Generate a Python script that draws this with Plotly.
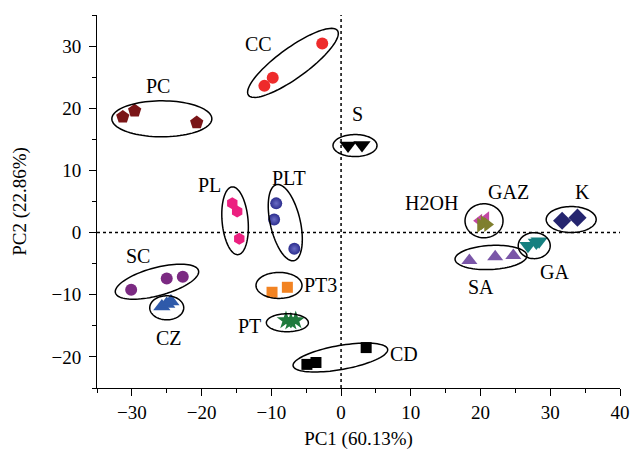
import numpy as np
import plotly.graph_objects as go

# PCA scores (PC1, PC2) per sample group
cc_x = [-11.0, -9.8, -2.7];   cc_y = [23.6, 24.9, 30.4]
pc_x = [-31.3, -29.6, -20.7]; pc_y = [18.6, 19.6, 17.7]
s_x = [1.0, 3.0];             s_y = [14.0, 14.1]
pl_x = [-15.6, -14.9, -14.6]; pl_y = [4.7, 3.4, -1.0]
plt_x = [-9.3, -9.6, -6.7];   plt_y = [4.7, 2.1, -2.6]
sc_x = [-30.1, -25.0, -22.7]; sc_y = [-9.2, -7.4, -7.1]
cz_x = [-25.7, -25.0, -24.4]; cz_y = [-11.9, -11.5, -11.1]
pt3_x = [-9.9, -7.7];         pt3_y = [-9.6, -8.8]
pt_x = [-7.9, -7.2, -6.5];    pt_y = [-14.1, -14.3, -14.1]
cd_x = [-4.9, -3.6, 3.6];     cd_y = [-21.2, -20.9, -18.5]
h2oh_x = [19.8, 20.8];        h2oh_y = [1.9, 2.3]
gaz_x = [20.0, 20.5, 21.0];   gaz_y = [1.2, 1.6, 1.3]
ga_x = [26.8, 28.0, 28.4];    ga_y = [-2.1, -1.6, -1.4]
sa_x = [18.4, 22.1, 24.7];    sa_y = [-4.5, -3.9, -3.7]
k_x = [31.7, 33.9];           k_y = [1.9, 2.4]

x_ticks = [-30, -20, -10, 0, 10, 20, 30, 40]
y_ticks = [-20, -10, 0, 10, 20, 30]
x_title = "PC1 (60.13%)"
y_title = "PC2 (22.86%)"

W, H = 632, 457
M = dict(l=97, r=12, t=15, b=69)
XR = [-35.0, 40.0]
YR = [-25.0, 35.0]
ppx = (W - M["l"] - M["r"]) / (XR[1] - XR[0])
ppy = (H - M["t"] - M["b"]) / (YR[1] - YR[0])

SERIF = "Liberation Serif"

groups = [
    # name, xs, ys, symbol, color, size
    ("PC", pc_x, pc_y, "pentagon", "#7a1517", 14),
    ("CC", cc_x, cc_y, "circle", "#ee2b2b", 12),
    ("S", s_x, s_y, "triangle-down", "#000000", 15),
    ("PL", pl_x, pl_y, "hexagon", "#ec2080", 12),
    ("PLT", plt_x, plt_y, "circle", "#2b2d8e", 12),
    ("SC", sc_x, sc_y, "circle", "#7b2a82", 12),
    ("CZ", cz_x, cz_y, "triangle-up", "#2f5aaa", 15),
    ("PT3", pt3_x, pt3_y, "square", "#f28322", 11),
    ("PT", pt_x, pt_y, "star", "#1f7a3c", 14),
    ("CD", cd_x, cd_y, "square", "#000000", 11),
    ("H2OH", h2oh_x, h2oh_y, "triangle-left", "#c447a6", 12),
    ("GAZ", gaz_x, gaz_y, "triangle-right", "#7f7f2e", 13),
    ("GA", ga_x, ga_y, "triangle-down", "#168080", 15),
    ("SA", sa_x, sa_y, "triangle-up", "#7a56a8", 14),
    ("K", k_x, k_y, "diamond", "#25256f", 14),
]

fig = go.Figure()
for name, xs, ys, sym, col, sz in groups:
    marker = dict(symbol=sym, color=col, size=sz, line=dict(width=0))
    if name == "PLT":
        marker["gradient"] = dict(type="radial", color="#6a6cc4")
    fig.add_trace(go.Scatter(x=xs, y=ys, mode="markers", name=name,
                             marker=marker, showlegend=False))

# Group outlines: center (data units), semi-axes (px), rotation (deg)
outlines = [
    (-6.9, 27.3, 55, 15, 36),
    (-25.7, 18.3, 50, 18, 0),
    (2.0, 14.0, 22, 11, 0),
    (-15.2, 1.9, 34, 13, 95),
    (-8.0, 1.6, 39, 15, 103),
    (-26.4, -7.9, 43, 14, 15),
    (-25.0, -12.1, 17, 12, 0),
    (-8.9, -8.5, 23, 13, 0),
    (-7.7, -14.5, 21, 9, 0),
    (-0.1, -20.1, 48, 12, 10),
    (20.5, 1.9, 19, 17, 0),
    (27.7, -2.1, 16, 13, 0),
    (21.5, -4.0, 36, 12, 3),
    (33.0, 2.1, 25, 13, 0),
]
t = np.linspace(0, 2 * np.pi, 90)
for cx, cy, a, b, ang in outlines:
    th = np.radians(ang)
    dx = a * np.cos(t) * np.cos(th) - b * np.sin(t) * np.sin(th)
    dy = a * np.cos(t) * np.sin(th) + b * np.sin(t) * np.cos(th)
    px = cx + dx / ppx
    py = cy + dy / ppy
    path = "M " + " L ".join(f"{u:.3f},{v:.3f}" for u, v in zip(px, py)) + " Z"
    fig.add_shape(type="path", path=path, xref="x", yref="y",
                  line=dict(color="black", width=1.5))

# Dotted zero lines
fig.add_shape(type="line", xref="x", yref="paper", x0=0, x1=0, y0=0, y1=1,
              line=dict(color="black", width=1.5, dash="dot"), layer="below")
fig.add_shape(type="line", xref="paper", yref="y", x0=0, x1=1, y0=0, y1=0,
              line=dict(color="black", width=1.5, dash="dot"), layer="below")

labels = [
    ("CC", -11.9, 30.4), ("PC", -26.3, 23.6), ("S", 2.3, 19.1),
    ("PL", -18.9, 7.7), ("PLT", -7.5, 8.8), ("SC", -29.1, -3.7),
    ("CZ", -24.7, -16.9), ("PT3", -2.9, -8.4), ("PT", -13.1, -15.1),
    ("CD", 9.0, -19.5), ("H2OH", 12.9, 4.7), ("GAZ", 24.0, 6.6),
    ("GA", 30.6, -6.3), ("SA", 20.1, -8.7), ("K", 34.6, 6.6),
]
for txt, lx, ly in labels:
    fig.add_annotation(x=lx, y=ly, text=txt, showarrow=False,
                       font=dict(family=SERIF, size=20, color="black"))

axis_common = dict(showline=True, linecolor="black", linewidth=1,
                   ticks="outside", ticklen=7, tickwidth=1, tickcolor="black",
                   showgrid=False, zeroline=False, mirror=False,
                   automargin=False,
                   tickfont=dict(family=SERIF, size=19, color="black"),
                   minor=dict(ticks="outside", ticklen=4, dtick=5,
                              tickcolor="black", showgrid=False))

fig.update_xaxes(range=XR, tickvals=x_ticks, **axis_common,
                 title=dict(text=x_title, standoff=9,
                            font=dict(family=SERIF, size=19, color="black")))
fig.update_yaxes(range=YR, tickvals=y_ticks, **axis_common,
                 ticklabelstandoff=4,
                 title=dict(text=y_title, standoff=19,
                            font=dict(family=SERIF, size=19, color="black")))

fig.update_layout(width=W, height=H, margin=M,
                  paper_bgcolor="white", plot_bgcolor="white")

fig.write_html("out.html")
